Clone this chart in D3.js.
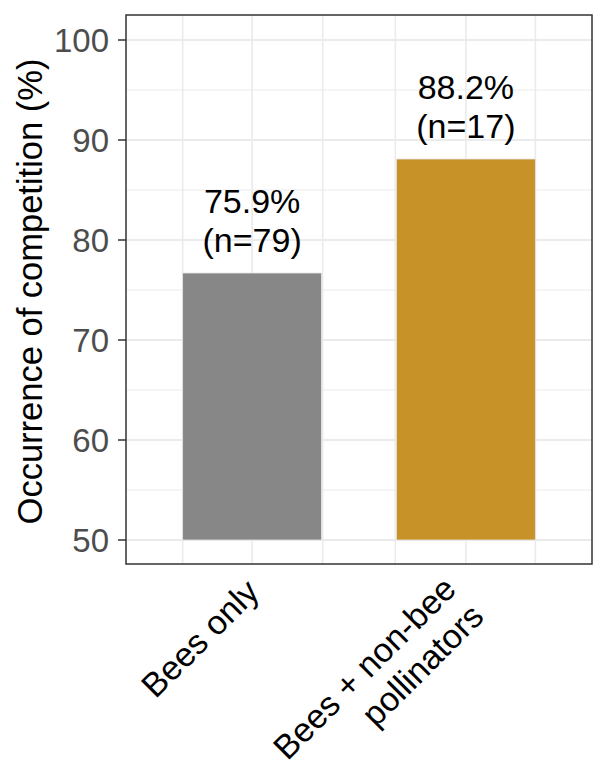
<!DOCTYPE html>
<html><head><meta charset="utf-8">
<script src="https://cdn.jsdelivr.net/npm/d3@7"></script>
<style>body{margin:0;background:#fff} text{font-family:"Liberation Sans",Arial,Helvetica,sans-serif}</style>
</head><body><svg id="c" width="611" height="767"></svg>
<script>
const categories = ["Bees only", "Bees + non-bee pollinators"];
const categoryLines = [["Bees only"], ["Bees + non-bee", "pollinators"]];
const values = [76.7, 88.1];
const percentLabels = ["75.9%", "88.2%"];
const nLabels = ["(n=79)", "(n=17)"];
const barColors = ["#878787", "#C79227"];
const yTicks = [50, 60, 70, 80, 90, 100];
const yMinor = [55, 65, 75, 85, 95];
const xMajor = [1, 2];
const xMinor = [0.675, 1.33, 1.67, 2.325];
const yTitle = "Occurrence of competition (%)";

const svg = d3.select("#c");
const P = {l:126, r:592, t:15, b:564};
const x = d3.scaleLinear().domain([0.41, 2.59]).range([P.l, P.r]);
const y = d3.scaleLinear().domain([47.6, 102.5]).range([P.b, P.t]);
const barW = 0.65;

svg.append("rect").attr("x",P.l).attr("y",P.t).attr("width",P.r-P.l).attr("height",P.b-P.t).attr("fill","#fff");
const g = svg.append("g");
g.selectAll("line.ymin").data(yMinor).join("line").attr("x1",P.l).attr("x2",P.r)
  .attr("y1",d=>y(d)).attr("y2",d=>y(d)).attr("stroke","#EBEBEB").attr("stroke-width",1.1);
g.selectAll("line.xmin").data(xMinor).join("line").attr("y1",P.t).attr("y2",P.b)
  .attr("x1",d=>x(d)).attr("x2",d=>x(d)).attr("stroke","#EBEBEB").attr("stroke-width",1.6);
g.selectAll("line.ymaj").data(yTicks).join("line").attr("x1",P.l).attr("x2",P.r)
  .attr("y1",d=>y(d)).attr("y2",d=>y(d)).attr("stroke","#EBEBEB").attr("stroke-width",2);
g.selectAll("line.xmaj").data(xMajor).join("line").attr("y1",P.t).attr("y2",P.b)
  .attr("x1",d=>x(d)).attr("x2",d=>x(d)).attr("stroke","#EBEBEB").attr("stroke-width",1.6);

// bars
svg.selectAll("rect.bar").data(values).join("rect")
  .attr("x",(d,i)=>x(i+1-barW/2)).attr("width",(d,i)=>x(i+1+barW/2)-x(i+1-barW/2))
  .attr("y",d=>y(d)).attr("height",d=>y(50)-y(d))
  .attr("fill",(d,i)=>barColors[i]).attr("stroke","#e6e6e6").attr("stroke-width",0.8);

// bar labels
const lab = svg.append("g").attr("font-size",34).attr("fill","#000").attr("text-anchor","middle");
values.forEach((v,i)=>{
  lab.append("text").attr("x",x(i+1)).attr("y",y(v)-60).text(percentLabels[i]);
  lab.append("text").attr("x",x(i+1)).attr("y",y(v)-21).text(nLabels[i]);
});

// border
svg.append("rect").attr("x",P.l).attr("y",P.t).attr("width",P.r-P.l).attr("height",P.b-P.t)
  .attr("fill","none").attr("stroke","#333333").attr("stroke-width",1.5);

// y axis
const ya = svg.append("g");
ya.selectAll("line").data(yTicks).join("line").attr("x1",P.l-8).attr("x2",P.l)
  .attr("y1",d=>y(d)).attr("y2",d=>y(d)).attr("stroke","#333333").attr("stroke-width",1.5);
ya.selectAll("text").data(yTicks).join("text").attr("x",P.l-17).attr("y",d=>y(d)).attr("dy","0.36em")
  .attr("text-anchor","end").attr("font-size",33).attr("fill","#4D4D4D").text(d=>d);

svg.append("text").attr("transform",`translate(42,${(P.t+P.b)/2+2}) rotate(-90)`)
  .attr("text-anchor","middle").attr("font-size",34.5).attr("fill","#000").text(yTitle);

// x labels
const L = 39;
categoryLines.forEach((lines,i)=>{
  const n = lines.length - 1;
  const ax = x(i+1) + 9 - 17*n, ay = 594 - 3*n;
  lines.forEach((t,k)=>{
    svg.append("text").attr("transform",`translate(${ax + k*L*0.7071},${ay + k*L*0.7071}) rotate(-45)`)
      .attr("text-anchor","end").attr("font-size",34).attr("fill","#000").text(t);
  });
});
</script></body></html>
